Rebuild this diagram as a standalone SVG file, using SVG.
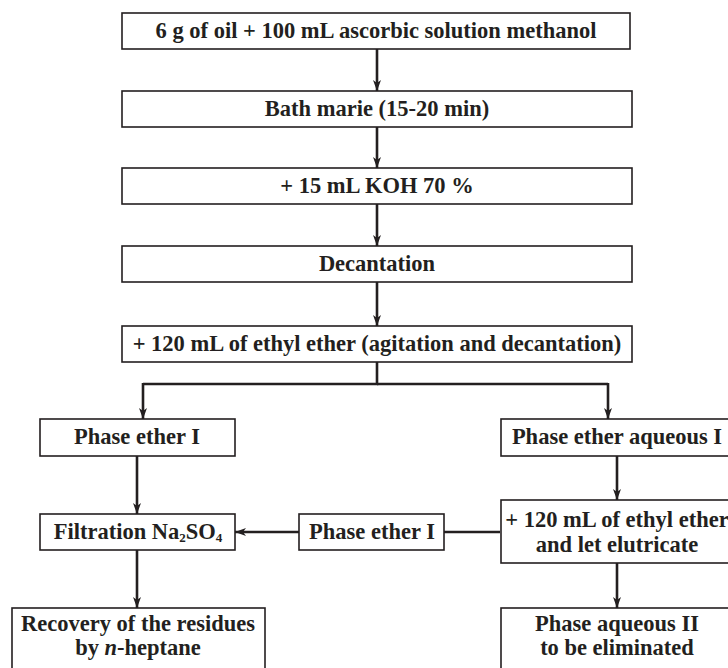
<svg xmlns="http://www.w3.org/2000/svg" width="728" height="668" viewBox="0 0 728 668">
<style>
.box{fill:#fff;stroke:#231f20;stroke-width:1.6}
.t{font-family:"Liberation Serif","Times New Roman",serif;font-weight:bold;font-size:22.5px;fill:#231f20;text-anchor:middle}
.c{fill:none;stroke:#231f20;stroke-width:2.6}
</style>
<defs>
<marker id="ah" markerUnits="userSpaceOnUse" markerWidth="12" markerHeight="10" refX="11" refY="5" orient="auto">
<path d="M0,1 L11,5 L0,9 L3,5 z" fill="#231f20"/>
</marker>
</defs>
<rect width="728" height="668" fill="#fff"/>
<g id="connectors">
<line class="c" x1="377" y1="49" x2="377" y2="91" marker-end="url(#ah)"/>
<line class="c" x1="377" y1="127" x2="377" y2="168" marker-end="url(#ah)"/>
<line class="c" x1="377" y1="204" x2="377" y2="246" marker-end="url(#ah)"/>
<line class="c" x1="377" y1="282" x2="377" y2="326" marker-end="url(#ah)"/>
<polyline class="c" points="377,362 377,384 143,384"/>
<line class="c" x1="143" y1="383" x2="143" y2="419" marker-end="url(#ah)"/>
<polyline class="c" points="377,384 608,384"/>
<line class="c" x1="608" y1="383" x2="608" y2="419" marker-end="url(#ah)"/>
<line class="c" x1="137" y1="456" x2="137" y2="514" marker-end="url(#ah)"/>
<line class="c" x1="617" y1="456" x2="617" y2="500" marker-end="url(#ah)"/>
<line class="c" x1="500" y1="532" x2="444" y2="532"/>
<line class="c" x1="299" y1="532" x2="235" y2="532" marker-end="url(#ah)"/>
<line class="c" x1="137" y1="550" x2="137" y2="608" marker-end="url(#ah)"/>
<line class="c" x1="617" y1="563" x2="617" y2="608" marker-end="url(#ah)"/>
</g>
<g id="n1"><rect class="box" x="122" y="13" width="508" height="36"/><text class="t" x="376" y="38">6 g of oil + 100 mL ascorbic solution methanol</text></g>
<g id="n2"><rect class="box" x="122" y="91" width="510" height="36"/><text class="t" x="377" y="116">Bath marie (15-20 min)</text></g>
<g id="n3"><rect class="box" x="122" y="168" width="510" height="36"/><text class="t" x="377" y="193">+ 15 mL KOH 70 %</text></g>
<g id="n4"><rect class="box" x="122" y="246" width="510" height="36"/><text class="t" x="377" y="271">Decantation</text></g>
<g id="n5"><rect class="box" x="122" y="326" width="510" height="36"/><text class="t" x="377" y="351">+ 120 mL of ethyl ether (agitation and decantation)</text></g>
<g id="n6"><rect class="box" x="40" y="419" width="195" height="37"/><text class="t" x="137" y="444">Phase ether I</text></g>
<g id="n7"><rect class="box" x="501" y="419" width="230" height="37"/><text class="t" x="617" y="444">Phase ether aqueous I</text></g>
<g id="n8"><rect class="box" x="40" y="514" width="195" height="36"/><text class="t" x="138" y="539">Filtration Na<tspan font-size="13" dy="3">2</tspan><tspan dy="-3">SO</tspan><tspan font-size="13" dy="3">4</tspan></text></g>
<g id="n9"><rect class="box" x="299" y="514" width="145" height="36"/><text class="t" x="372" y="539">Phase ether I</text></g>
<g id="n10"><rect class="box" x="501" y="500" width="230" height="63"/><text class="t" x="617" y="527">+ 120 mL of ethyl ether</text><text class="t" x="617" y="552">and let elutricate</text></g>
<g id="n11"><rect class="box" x="12" y="608" width="253" height="64"/><text class="t" x="138" y="631">Recovery of the residues</text><text class="t" x="138" y="655">by <tspan font-style="italic">n</tspan>-heptane</text></g>
<g id="n12"><rect class="box" x="501" y="608" width="230" height="64"/><text class="t" x="617" y="631">Phase aqueous II</text><text class="t" x="617" y="655">to be eliminated</text></g>
</svg>
